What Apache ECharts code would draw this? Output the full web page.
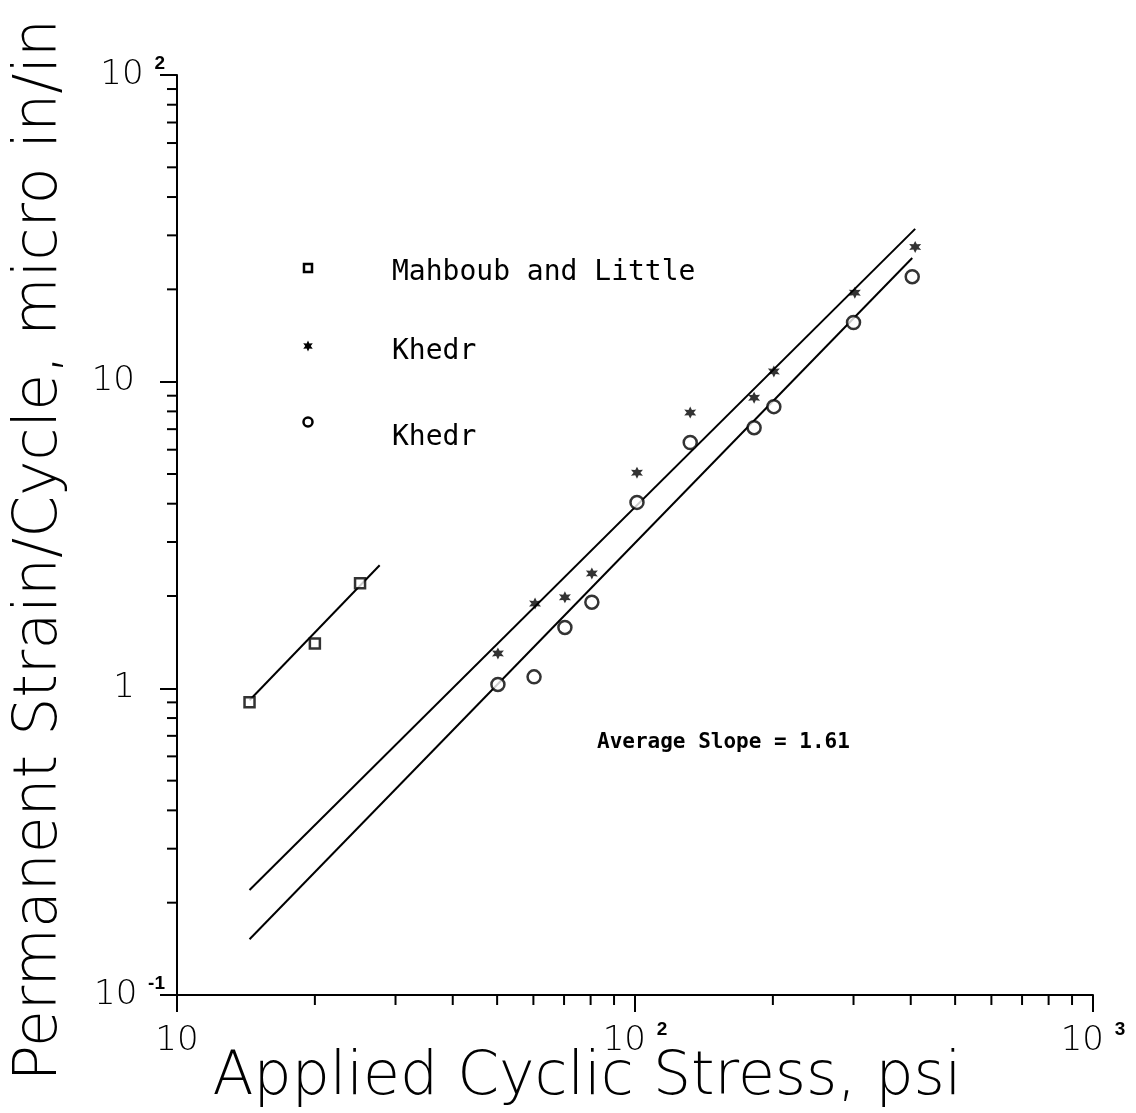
<!DOCTYPE html>
<html>
<head>
<meta charset="utf-8">
<script src="https://cdn.jsdelivr.net/npm/echarts@6/dist/echarts.min.js"></script>
<style>
html,body{margin:0;padding:0;background:#fff;}
#chart{width:1136px;height:1113px;}
</style>
</head>
<body>
<div id="chart"></div>
<script>
// ---- data ----
const mahboubStress = [14.4, 20.0, 25.1];
const mahboubStrain = [0.90, 1.40, 2.20];
const mahboubFitX = [14.4, 27.7];
const mahboubFitY = [0.914, 2.52];

const khedrStarStress = [50.2, 60.5, 70.3, 80.5, 101, 132, 182, 201, 302, 409];
const khedrStarStrain = [1.30, 1.89, 1.98, 2.37, 5.05, 7.93, 8.87, 10.8, 19.5, 27.5];
const khedrStarFitX = [14.4, 409];
const khedrStarFitY = [0.22, 31.5];

const khedrCircleStress = [50.2, 60.2, 70.3, 80.5, 101, 132, 182, 201, 300, 403];
const khedrCircleStrain = [1.03, 1.09, 1.58, 1.91, 4.04, 6.33, 7.08, 8.29, 15.6, 22.0];
const khedrCircleFitX = [14.4, 403];
const khedrCircleFitY = [0.152, 25.3];

const xTickLabels = {10: ['10', ''], 100: ['10', '2'], 1000: ['10', '3']};
const yTickLabels = {0.1: ['10', '-1'], 1: ['1', ''], 10: ['10', ''], 100: ['10', '2']};
const xMinorTicks = [20, 30, 40, 50, 60, 70, 80, 90, 200, 300, 400, 500, 600, 700, 800, 900];
const yMinorTicks = [0.2, 0.3, 0.4, 0.5, 0.6, 0.7, 0.8, 0.9, 2, 3, 4, 5, 6, 7, 8, 9, 20, 30, 40, 50, 60, 70, 80, 90];

const legendNames = ['Mahboub and Little', 'Khedr', 'Khedr'];
const annotation = 'Average Slope = 1.61';
const xTitle = 'Applied Cyclic Stress, psi';
const yTitle = 'Permanent Strain/Cycle, micro in/in';

// ---- helpers ----
function zip(a, b) { return a.map((v, i) => [v, b[i]]); }
function starPoints(cx, cy, R) {
  let pts = [];
  for (let k = 0; k < 12; k++) {
    const r = k % 2 === 0 ? R : R / 2;
    const a = Math.PI / 6 * k - Math.PI / 2;
    pts.push([cx + r * Math.cos(a), cy + r * Math.sin(a)]);
  }
  return pts;
}
const STAR = 'path://M' + starPoints(10, 10, 10).map(p => p[0].toFixed(2) + ',' + p[1].toFixed(2)).join('L') + 'Z';
function fmtTick(map, padEmpty) {
  return function (v) {
    let key = Object.keys(map).find(k => Math.abs(Math.log10(+k) - Math.log10(v)) < 1e-6);
    if (key === undefined) return '';
    const t = map[key];
    if (t[1]) return '{n|' + t[0] + ' }{s|' + t[1] + '}';
    return padEmpty ? '{n|' + t[0] + '}{e|}' : '{n|' + t[0] + '}';
  };
}
const richTick = {
  n: {fontSize: 34, fontFamily: 'DejaVu Sans', fontWeight: 200, color: '#000', lineHeight: 42},
  s: {fontSize: 19, fontWeight: 'bold', fontFamily: 'Liberation Sans', color: '#000', lineHeight: 19, verticalAlign: 'top'},
  e: {width: 30, lineHeight: 19}
};

const chart = echarts.init(document.getElementById('chart'), null, {renderer: 'canvas'});
const X0 = 177, Y0 = 75, W = 916, H = 920;

const option = {
  backgroundColor: '#fff',
  animation: false,
  grid: {left: X0, top: Y0, width: W, height: H, containLabel: false, outerBoundsMode: 'none'},
  xAxis: {
    type: 'log', logBase: 10, min: 10, max: 1000,
    axisLine: {show: true, lineStyle: {color: '#000', width: 2}},
    axisTick: {show: true, inside: false, length: 17, lineStyle: {color: '#000', width: 2}},
    splitLine: {show: false},
    axisLabel: {margin: 25, formatter: fmtTick(xTickLabels, false), rich: richTick},
    name: xTitle, nameLocation: 'middle', nameGap: 53, nameMoveOverlap: false,
    nameTextStyle: {fontSize: 60, fontFamily: 'DejaVu Sans', fontWeight: 200, color: '#000', padding: [0, 96, 0, 0]}
  },
  yAxis: {
    type: 'log', logBase: 10, min: 0.1, max: 100,
    axisLine: {show: true, lineStyle: {color: '#000', width: 2}},
    axisTick: {show: true, inside: false, length: 17, lineStyle: {color: '#000', width: 2}},
    splitLine: {show: false},
    axisLabel: {margin: 12, formatter: fmtTick(yTickLabels, true), rich: richTick},
    name: yTitle, nameLocation: 'middle', nameGap: 107, nameMoveOverlap: false,
    nameTextStyle: {fontSize: 60, fontFamily: 'DejaVu Sans', fontWeight: 200, color: '#000', padding: [0, 30, 0, 0]}
  },
  series: [
    {
      type: 'custom', name: 'xminor', silent: true, clip: false,
      data: xMinorTicks.map(v => [v, 0.1]),
      renderItem: function (params, api) {
        const p = api.coord([api.value(0), api.value(1)]);
        return {type: 'line', shape: {x1: p[0], y1: p[1], x2: p[0], y2: p[1] + 10}, style: {stroke: '#000', lineWidth: 2}};
      }
    },
    {
      type: 'custom', name: 'yminor', silent: true, clip: false,
      data: yMinorTicks.map(v => [10, v]),
      renderItem: function (params, api) {
        const p = api.coord([api.value(0), api.value(1)]);
        return {type: 'line', shape: {x1: p[0], y1: p[1], x2: p[0] - 10, y2: p[1]}, style: {stroke: '#000', lineWidth: 2}};
      }
    },
    {
      type: 'line', name: 'fit1', data: zip(mahboubFitX, mahboubFitY), symbol: 'none',
      lineStyle: {color: '#000', width: 2}
    },
    {
      type: 'line', name: 'fit2', data: zip(khedrStarFitX, khedrStarFitY), symbol: 'none',
      lineStyle: {color: '#000', width: 2}
    },
    {
      type: 'line', name: 'fit3', data: zip(khedrCircleFitX, khedrCircleFitY), symbol: 'none',
      lineStyle: {color: '#000', width: 2}
    },
    {
      type: 'scatter', name: legendNames[0], data: zip(mahboubStress, mahboubStrain),
      symbol: 'rect', symbolSize: 10,
      itemStyle: {color: '#fff', borderColor: '#000', borderWidth: 2.5}, z: 5
    },
    {
      type: 'scatter', name: legendNames[1], data: zip(khedrStarStress, khedrStarStrain),
      symbol: STAR, symbolSize: 12,
      itemStyle: {color: '#000'}, z: 5
    },
    {
      type: 'scatter', name: legendNames[2] + ' ', data: zip(khedrCircleStress, khedrCircleStrain),
      symbol: 'circle', symbolSize: 13,
      itemStyle: {color: '#fff', borderColor: '#000', borderWidth: 2.5}, z: 5
    }
  ],
  graphic: [
    {type: 'rect', shape: {x: 304, y: 264, width: 8, height: 8}, style: {fill: '#fff', stroke: '#000', lineWidth: 2.5}},
    {type: 'text', style: {x: 392, y: 273, text: legendNames[0], fontSize: 28, fontFamily: 'DejaVu Sans Mono', fill: '#000', textVerticalAlign: 'middle'}},
    {type: 'polygon', shape: {points: starPoints(308, 346, 5.5)}, style: {fill: '#000'}},
    {type: 'text', style: {x: 392, y: 352, text: legendNames[1], fontSize: 28, fontFamily: 'DejaVu Sans Mono', fill: '#000', textVerticalAlign: 'middle'}},
    {type: 'circle', shape: {cx: 308, cy: 422, r: 4.5}, style: {fill: '#fff', stroke: '#000', lineWidth: 2.5}},
    {type: 'text', style: {x: 392, y: 438, text: legendNames[2], fontSize: 28, fontFamily: 'DejaVu Sans Mono', fill: '#000', textVerticalAlign: 'middle'}},
    {type: 'text', style: {x: 597, y: 743, text: annotation, fontSize: 21, fontWeight: 'bold', fontFamily: 'DejaVu Sans Mono', fill: '#000', textVerticalAlign: 'middle'}}
  ]
};
chart.setOption(option);
</script>
</body>
</html>
